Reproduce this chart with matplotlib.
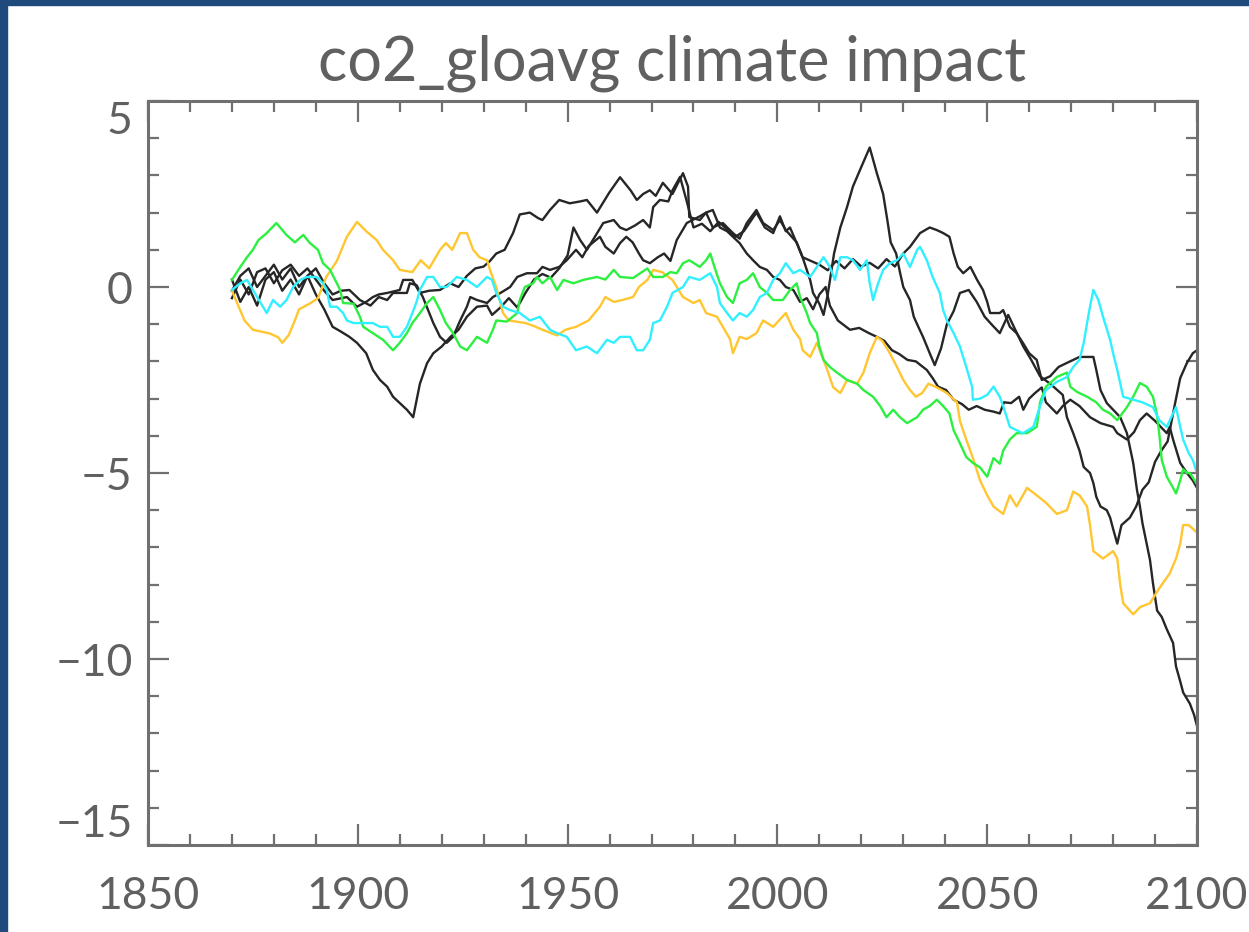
import matplotlib
matplotlib.use("Agg")
import matplotlib.pyplot as plt
from matplotlib.patches import Rectangle
from matplotlib.ticker import MultipleLocator

# values, year / value pairs for each run

orange_years = [1870, 1871.5, 1873, 1875, 1877, 1879, 1881, 1882, 1883.5, 1885, 1886, 1888.5, 1890.5, 1892.5,
                1895, 1897.4, 1899.8, 1902, 1904.5, 1906, 1908.4, 1910, 1913, 1915, 1917, 1919.6, 1921, 1922.5,
                1924.4, 1926, 1927.5, 1929, 1930.8, 1931.5, 1933, 1934.6, 1936, 1940, 1942, 1944, 1947.5, 1949.5,
                1952, 1955, 1957.7, 1959, 1961, 1963, 1965.6, 1967, 1969, 1970.4, 1972.5, 1975, 1977.5, 1980,
                1981.5, 1983, 1985.6, 1987, 1988.7, 1989.4, 1991, 1992.7, 1995, 1996.6, 1999, 2002, 2003.8, 2005.4,
                2006, 2007.8, 2009.4, 2011.8, 2013.3, 2015, 2016.6, 2019, 2020.5, 2022, 2023.7, 2025, 2026.8,
                2028.5, 2030, 2031.6, 2033, 2034.5, 2036, 2038, 2040.4, 2042.8, 2043.5, 2045, 2046.6, 2048.3,
                2050, 2051.5, 2053.8, 2055.4, 2057, 2059.5, 2061.8, 2064, 2066.6, 2069, 2070.5, 2072, 2073.8,
                2074.5, 2075.3, 2077.6, 2080, 2081, 2081.7, 2082.4, 2084.8, 2086.5, 2088.8, 2091, 2093.5, 2095,
                2096, 2096.7, 2098, 2100]
orange_vals = [-0.1, -0.5, -0.9, -1.15, -1.2, -1.25, -1.35, -1.5, -1.3, -0.9, -0.6, -0.45, -0.3, 0.27,
               0.7, 1.35, 1.75, 1.5, 1.26, 1.0, 0.72, 0.46, 0.4, 0.72, 0.5, 1.0, 1.18, 1.0,
               1.45, 1.45, 1.0, 0.8, 0.72, 0.46, 0.0, -0.7, -0.9, -0.97, -1.05, -1.15, -1.3, -1.15,
               -1.07, -0.9, -0.53, -0.27, -0.4, -0.35, -0.27, 0.0, 0.19, 0.46, 0.4, 0.19, -0.27, -0.43,
               -0.35, -0.7, -0.8, -1.07, -1.4, -1.78, -1.34, -1.4, -1.24, -0.9, -1.07, -0.7, -1.15, -1.4,
               -1.7, -1.88, -1.5, -2.2, -2.7, -2.85, -2.5, -2.6, -2.3, -1.78, -1.34, -1.45, -1.78,
               -2.15, -2.5, -2.77, -2.95, -2.85, -2.6, -2.7, -2.85, -3.1, -3.6, -4.1, -4.6, -5.2,
               -5.6, -5.9, -6.1, -5.6, -5.9, -5.4, -5.6, -5.8, -6.1, -6.0, -5.5, -5.6, -5.9,
               -6.4, -7.1, -7.3, -7.1, -7.3, -8.0, -8.5, -8.8, -8.6, -8.5, -8.1, -7.7, -7.3,
               -6.9, -6.4, -6.4, -6.6]

green_years = [1870, 1872, 1873.6, 1875, 1876.3, 1878.3, 1880.6, 1883, 1885, 1887, 1888.6, 1890.5, 1891.7,
               1893.4, 1894.6, 1895.8, 1896.5, 1899, 1900.5, 1901.3, 1903.6, 1906, 1908.4, 1910, 1911.7, 1913,
               1914.8, 1916.5, 1918, 1919.6, 1921, 1922.7, 1924.4, 1926, 1928.4, 1930.8, 1932.2, 1933, 1935.5,
               1938, 1938.6, 1939.8, 1941.8, 1942.7, 1944, 1945.8, 1947.5, 1949, 1951.4, 1953.7, 1957, 1959,
               1961, 1962.5, 1965.6, 1969, 1970.4, 1972.7, 1974.5, 1976, 1977.5, 1979, 1981.5, 1983, 1984,
               1985, 1986.3, 1988, 1989.4, 1991, 1992.7, 1994.2, 1995.8, 1997.5, 1999, 2001.3, 2003, 2004.6,
               2005.4, 2007, 2007.8, 2009.4, 2010, 2011, 2012.5, 2014.2, 2016.6, 2019, 2020.5, 2022.8, 2024.5,
               2026, 2027.6, 2029.2, 2030.9, 2033.3, 2034.7, 2036.3, 2038, 2039.5, 2041, 2042, 2043.5, 2045,
               2046.6, 2048.3, 2050, 2051.5, 2053, 2053.8, 2055.4, 2057, 2059.5, 2061.8, 2062.6, 2064, 2066.6,
               2069, 2069.8, 2071.4, 2073.8, 2076, 2077.6, 2079.3, 2081, 2083.3, 2084.8, 2086.4, 2088, 2089.5,
               2090.4, 2091, 2091.6, 2092.8, 2094.3, 2095, 2096, 2096.7, 2097.6, 2098.3, 2100]
green_vals = [0.19, 0.54, 0.8, 1.0, 1.26, 1.45, 1.72, 1.4, 1.2, 1.4, 1.18, 1.0, 0.64,
              0.46, 0.19, -0.08, -0.43, -0.45, -0.8, -1.07, -1.24, -1.42, -1.7, -1.5, -1.24, -0.97,
              -0.7, -0.43, -0.27, -0.62, -0.97, -1.24, -1.6, -1.7, -1.34, -1.5, -1.15, -0.9, -0.93,
              -0.7, -0.35, 0.0, 0.1, 0.27, 0.1, 0.27, -0.08, 0.19, 0.1, 0.19, 0.27, 0.2,
              0.46, 0.27, 0.24, 0.5, 0.27, 0.27, 0.4, 0.37, 0.64, 0.72, 0.54, 0.72, 0.9,
              0.54, 0.1, -0.27, -0.43, 0.1, 0.19, 0.37, 0.0, -0.16, -0.35, -0.35, -0.08, 0.1,
              -0.27, -0.7, -0.97, -1.24, -1.6, -1.96, -2.15, -2.3, -2.5, -2.6, -2.77, -2.95, -3.2,
              -3.5, -3.3, -3.5, -3.66, -3.5, -3.3, -3.2, -3.03, -3.2, -3.4, -3.85, -4.2, -4.57,
              -4.73, -4.85, -5.1, -4.6, -4.75, -4.4, -4.1, -3.93, -3.93, -3.76, -3.1, -2.68, -2.42,
              -2.3, -2.68, -2.82, -2.95, -3.1, -3.3, -3.4, -3.58, -3.23, -2.95, -2.58, -2.68, -2.95,
              -3.4, -3.93, -4.65, -5.1, -5.4, -5.55, -5.2, -4.9, -5.0, -5.0, -5.3]

cyan_years = [1870, 1872, 1873.6, 1875, 1877.4, 1878.3, 1879.8, 1881.5, 1883, 1884.6, 1886.3, 1887.8, 1890.2,
              1891.7, 1892.6, 1893.4, 1895, 1896.5, 1897.4, 1899, 1901.3, 1903.6, 1905.3, 1907, 1908.4, 1910,
              1911.7, 1913, 1914, 1914.8, 1916.5, 1918, 1919.6, 1921.2, 1923.6, 1926, 1928.4, 1930.8, 1932,
              1933, 1934.6, 1936.3, 1938.6, 1941, 1943.4, 1945.8, 1947.5, 1949.8, 1952, 1954.6, 1957, 1959.4,
              1961, 1962.5, 1964.9, 1966.5, 1968, 1969.6, 1970.4, 1972, 1973.7, 1975, 1977.5, 1979, 1981.5,
              1984, 1985.6, 1986.3, 1988, 1989.4, 1991, 1992.7, 1994.2, 1995.8, 1997.5, 1999, 2000.6, 2002,
              2003.8, 2005.4, 2007.8, 2009.4, 2011, 2012.5, 2013.7, 2015, 2016.6, 2018, 2019.7, 2021.3, 2022,
              2022.8, 2024, 2025.2, 2026.8, 2028.5, 2030, 2031.6, 2033.3, 2034, 2035.6, 2037, 2038.7, 2039.5,
              2040.4, 2042, 2043.5, 2045, 2046.4, 2046.6, 2048.3, 2050, 2051.5, 2053, 2053.8, 2055.4, 2057,
              2058.5, 2061, 2062.6, 2064, 2066.6, 2069, 2070.5, 2072, 2073, 2073.8, 2074.5, 2075.3, 2076.5,
              2077.6, 2079.3, 2080, 2081, 2082.4, 2084.8, 2087, 2089.5, 2091, 2092.8, 2094.3, 2095, 2096,
              2096.7, 2098, 2099, 2100]
cyan_vals = [-0.08, 0.1, 0.19, -0.08, -0.53, -0.7, -0.35, -0.53, -0.35, 0.0, 0.19, 0.27, 0.27,
             0.1, -0.08, -0.53, -0.53, -0.7, -0.9, -0.97, -0.97, -0.97, -1.07, -1.07, -1.34, -1.34,
             -1.07, -0.7, -0.4, -0.08, 0.27, 0.27, 0.0, 0.0, 0.27, 0.19, 0.0, 0.27, 0.19,
             -0.16, -0.53, -0.62, -0.7, -0.9, -0.8, -1.15, -1.24, -1.34, -1.7, -1.6, -1.78, -1.42,
             -1.5, -1.34, -1.34, -1.7, -1.7, -1.42, -0.97, -0.9, -0.53, -0.16, 0.0, 0.27, 0.19,
             0.37, 0.0, -0.43, -0.7, -0.9, -0.7, -0.8, -0.62, -0.27, -0.16, 0.19, 0.37, 0.64,
             0.37, 0.46, 0.27, 0.54, 0.8, 0.54, 0.19, 0.8, 0.8, 0.72, 0.46, 0.72, 0.1,
             -0.35, 0.1, 0.46, 0.64, 0.72, 0.9, 0.54, 1.0, 1.08, 0.72, 0.27, -0.16, -0.62,
             -0.9, -1.24, -1.6, -2.15, -2.68, -3.03, -3.0, -2.9, -2.68, -2.95, -3.2, -3.76, -3.85,
             -3.93, -3.76, -3.2, -2.77, -2.55, -2.42, -2.15, -1.96, -1.5, -0.97, -0.53, -0.08, -0.35,
             -0.8, -1.42, -1.78, -2.23, -2.95, -3.03, -3.1, -3.23, -3.58, -3.76, -3.4, -3.23, -3.76,
             -4.1, -4.46, -4.65, -5.0]

black1_years = [1870, 1872, 1874, 1876, 1878, 1880, 1882, 1884, 1886, 1888, 1890, 1892, 1894, 1897.4, 1899.8,
                1902, 1903.6, 1905, 1907, 1910, 1910.8, 1913, 1914.8, 1917, 1919.6, 1922, 1924, 1926, 1928,
                1930, 1931.5, 1933, 1935, 1937, 1938.6, 1941, 1943, 1944, 1945.8, 1948, 1950.5, 1953, 1954.6,
                1957, 1960, 1962.5, 1965, 1966.5, 1968, 1969.6, 1971, 1972.7, 1975, 1977.5, 1978.7, 1979,
                1981.5, 1983, 1984.6, 1987, 1989.4, 1991, 1992.7, 1995, 1996.6, 1999, 2000.6, 2002, 2004.6,
                2006, 2007, 2007.8, 2008.5, 2010, 2011, 2012, 2013.5, 2015, 2016.6, 2018, 2019.7, 2022,
                2023.7, 2025.2, 2026.2, 2027, 2028.3, 2029.2, 2030, 2031.6, 2032.5, 2033.5, 2034.7, 2036.3,
                2037.5, 2039, 2040.4, 2042, 2043.5, 2045.6, 2047.5, 2049.4, 2051, 2053, 2055, 2056.7, 2058.6,
                2060.5, 2062.6, 2065, 2068, 2069, 2070.5, 2072, 2073, 2074.5, 2075.3, 2076, 2077, 2078.5,
                2079.3, 2080, 2081, 2082, 2084, 2085.5, 2087, 2088.5, 2090, 2091.5, 2093, 2095, 2096, 2097.6,
                2099, 2100]
black1_vals = [-0.3, 0.2, -0.2, 0.4, 0.5, 0.1, 0.45, 0.6, 0.3, 0.5, 0.2, -0.1, -0.35, -0.27, -0.53,
               -0.4, -0.27, -0.2, -0.16, -0.08, 0.19, 0.19, -0.16, -0.1, -0.08, 0.1, 0.0, 0.3, 0.5,
               0.55, 0.7, 0.9, 1.0, 1.45, 1.95, 2.0, 1.85, 1.8, 2.07, 2.34, 2.25, 2.3, 2.34,
               2.0, 2.55, 2.95, 2.6, 2.34, 2.5, 2.6, 2.45, 2.8, 2.5, 3.06, 2.7, 1.88,
               1.8, 2.0, 1.6, 1.72, 1.45, 1.3, 1.72, 2.07, 1.72, 1.53, 1.8, 1.53, 1.2,
               0.8, 0.46, 0.19, -0.16, -0.45, -0.75, -0.2, 0.9, 1.6, 2.15, 2.7, 3.15, 3.75,
               3.06, 2.5, 1.8, 1.2, 0.9, 0.4, 0.0, -0.35, -0.8, -1.05, -1.34, -1.78,
               -2.1, -1.65, -1.0, -0.65, -0.16, -0.08, -0.4, -0.8, -1.0, -1.24, -0.75, -1.15, -1.6,
               -1.96, -2.4, -2.6, -2.9, -3.5, -3.93, -4.4, -4.84, -5.0, -5.27, -5.64, -5.9, -6.0,
               -6.2, -6.5, -6.9, -6.4, -6.2, -5.9, -5.45, -5.25, -4.7, -4.4, -4.15, -3.0, -2.45, -2.04,
               -1.78, -1.7]

black2_years = [1870, 1872, 1874, 1876, 1878, 1880, 1882, 1884, 1886, 1888, 1890, 1892, 1894, 1896, 1898,
                1899.8, 1902, 1903.6, 1905.3, 1907, 1908.4, 1910, 1911.7, 1913.2, 1914.8, 1916.5, 1918, 1920,
                1922, 1924, 1926, 1928.4, 1930.8, 1932, 1934, 1936, 1938, 1940, 1942, 1944, 1946, 1948, 1950,
                1951.4, 1953, 1954.6, 1956, 1958.5, 1961, 1962.5, 1964, 1966, 1968, 1969.6, 1970.4, 1972, 1974,
                1975, 1976.8, 1978.4, 1980, 1982, 1984, 1986, 1988, 1990, 1992, 1995, 1997, 1999, 2000.6, 2002,
                2003, 2004.6, 2006, 2008, 2010, 2012, 2014, 2016, 2018, 2020, 2022, 2024, 2026, 2028, 2030,
                2031.6, 2034, 2036.3, 2038, 2039.5, 2041, 2042, 2043, 2044.3, 2046, 2047.6, 2049, 2050, 2050.7,
                2053, 2053.8, 2055.4, 2057, 2058.5, 2060, 2061.8, 2063, 2065, 2067, 2069, 2072, 2075.3, 2076,
                2077, 2078.5, 2080, 2081.7, 2083.3, 2084.8, 2085.7, 2086.4, 2087, 2088, 2088.8, 2089.5, 2090.5,
                2091.6, 2092.8, 2094.3, 2095, 2096, 2096.7, 2098.3, 2099.3, 2100]
black2_vals = [0.2, -0.4, 0.0, -0.5, 0.2, 0.4, -0.1, 0.2, -0.2, 0.3, -0.2, -0.6, -1.07, -1.2, -1.34,
               -1.5, -1.78, -2.23, -2.5, -2.68, -2.95, -3.12, -3.3, -3.5, -2.6, -2.05, -1.78, -1.6,
               -1.35, -1.15, -0.8, -0.53, -0.5, -0.75, -0.55, -0.3, -0.55, -0.15, 0.2, 0.35, 0.25, 0.5, 0.85,
               1.6, 1.26, 1.0, 1.26, 1.72, 1.8, 1.6, 1.53, 1.65, 1.8, 1.6, 2.15, 2.34, 2.3,
               2.6, 2.96, 2.3, 1.6, 1.7, 1.5, 1.75, 1.55, 1.35, 1.5, 2.0, 1.6, 1.45, 1.9, 1.5,
               1.6, 1.18, 0.8, 0.7, 0.6, 0.45, 0.7, 0.5, 0.75, 0.55, 0.65, 0.5, 0.75, 0.55, 0.9,
               1.08, 1.45, 1.6, 1.53, 1.45, 1.35, 0.9, 0.54, 0.37, 0.54, 0.19, -0.08, -0.4, -0.7,
               -0.7, -0.62, -1.07, -1.24, -1.5, -1.78, -1.96, -2.5, -2.4, -2.15, -2.04, -1.88, -1.88, -2.23,
               -2.77, -3.12, -3.3, -3.5, -3.93, -4.73, -5.46, -5.9, -6.35, -6.9, -7.34, -7.96, -8.7,
               -8.87, -9.2, -9.57, -10.2, -10.6, -10.9, -11.2, -11.5, -11.8]

black3_years = [1870, 1872, 1874, 1876, 1878, 1880, 1882, 1884, 1886, 1888, 1890, 1892, 1894, 1896, 1898,
                1900.5, 1903, 1905, 1907, 1908.4, 1911.7, 1912.4, 1914, 1915.5, 1918, 1919.6, 1921.2, 1922.7,
                1924.4, 1926, 1926.8, 1928.4, 1930.8, 1932.2, 1934, 1936.3, 1938, 1940.3, 1942.7, 1944, 1945.8,
                1948, 1949.8, 1952, 1953.5, 1955, 1957.7, 1959, 1961, 1962.5, 1964, 1965.5, 1967, 1968, 1969.6,
                1971.5, 1973, 1974.5, 1976, 1978.4, 1981.5, 1983, 1984.6, 1986.3, 1988, 1989.4, 1991, 1992.7,
                1994.2, 1995.8, 1997.5, 1999, 2000.6, 2002, 2003.8, 2005.4, 2007, 2008.5, 2010, 2011.5, 2012.5,
                2014.4, 2017.3, 2019.5, 2021.8, 2023.7, 2025.5, 2027.3, 2029, 2031, 2033, 2035.6, 2037, 2038.3,
                2040.2, 2042, 2044, 2045.6, 2047.5, 2049.4, 2051.5, 2053, 2054, 2055.7, 2057.6, 2058.6, 2060,
                2061.4, 2063, 2064, 2066.6, 2068, 2069.8, 2072, 2074.5, 2077, 2080, 2081, 2083.3, 2085, 2086.4,
                2088, 2090, 2092.8, 2093.5, 2094.3, 2096, 2097.6, 2099, 2100]
black3_vals = [-0.1, 0.3, 0.5, 0.0, 0.3, 0.6, 0.2, 0.5, 0.0, 0.3, 0.5, 0.1, -0.2, -0.1, -0.08,
               -0.35, -0.5, -0.27, -0.35, -0.16, -0.16, 0.1, 0.05, -0.27, -0.97, -1.34, -1.5, -1.34,
               -0.9, -0.53, -0.27, -0.35, -0.43, -0.27, -0.16, 0.0, 0.27, 0.37, 0.37, 0.54, 0.46,
               0.54, 0.72, 1.0, 0.8, 1.1, 1.35, 1.08, 0.9, 1.18, 1.35, 1.2, 0.9, 0.72, 0.64,
               0.8, 0.9, 0.7, 1.26, 1.72, 1.9, 2.0, 2.07, 1.6, 1.5, 1.35, 1.18, 0.9,
               0.72, 0.54, 0.46, 0.27, 0.19, 0.0, -0.08, -0.4, -0.3, -0.6, -0.2, 0.0, -0.5,
               -0.9, -1.15, -1.1, -1.24, -1.34, -1.45, -1.7, -1.8, -1.96, -2.0, -2.23, -2.45, -2.68,
               -2.77, -3.03, -3.15, -3.3, -3.2, -3.3, -3.35, -3.4, -3.1, -3.12, -2.95, -3.3, -3.0,
               -2.85, -2.7, -3.1, -3.4, -3.2, -3.03, -3.2, -3.5, -3.66, -3.76, -3.93, -4.1, -3.9, -3.58,
               -3.4, -3.6, -3.93, -3.76, -4.1, -4.73, -5.0, -5.2, -5.4]

title = "co2_gloavg climate impact"
x_ticks = [1850, 1900, 1950, 2000, 2050, 2100]
y_ticks = [-15, -10, -5, 0, 5]

axis_grey = "#707070"
text_grey = "#606060"

fig = plt.figure(figsize=(12.49, 9.32), dpi=100)
ax = fig.add_axes([148 / 1249, 1 - 845 / 932, (1197 - 148) / 1249, (845 - 101) / 932])

# black runs first, coloured ones on top
for yrs, vals in [(black1_years, black1_vals), (black2_years, black2_vals), (black3_years, black3_vals)]:
    ax.plot(yrs, vals, color="#262626", lw=1.7)
ax.plot(orange_years, orange_vals, color="#ffc630", lw=1.7)
ax.plot(green_years, green_vals, color="#2cf040", lw=1.7)
ax.plot(cyan_years, cyan_vals, color="#30f0ff", lw=1.7)

ax.set_xlim(1850, 2100)
ax.set_ylim(-15, 5)
ax.set_xticks(x_ticks)
ax.set_yticks(y_ticks)
ax.xaxis.set_minor_locator(MultipleLocator(10))
ax.yaxis.set_minor_locator(MultipleLocator(1))

ax.tick_params(which="both", direction="in", top=True, right=True, color=axis_grey, width=1.6,
               labelsize=32, labelcolor=text_grey)
ax.tick_params(which="major", length=15)
ax.tick_params(which="minor", length=8)
ax.tick_params(axis="x", pad=22)
ax.tick_params(axis="y", pad=11)
for s in ax.spines.values():
    s.set_color(axis_grey)
    s.set_linewidth(2.2)

# plain sans in a mid grey for the thin IDL lettering
for lab in ax.get_xticklabels() + ax.get_yticklabels():
    lab.set_family("Lato")

# IDL keeps the end labels inside the axis range
ylabs = ax.get_yticklabels()
ylabs[0].set_verticalalignment("bottom")
ylabs[-1].set_verticalalignment("top")

fig.text(672 / 1249, 1 - 80 / 932, title, ha="center", va="baseline", fontsize=44, color=text_grey,
         family="Lato")

# dark blue frame on the left and top
fig.patches.append(Rectangle((0, 0), 7 / 1249, 1, transform=fig.transFigure, color="#1f4a7c", zorder=5))
fig.patches.append(Rectangle((0, 1 - 5 / 932), 1, 5 / 932, transform=fig.transFigure, color="#1f4a7c", zorder=5))

fig.savefig("out.png", dpi=100)
